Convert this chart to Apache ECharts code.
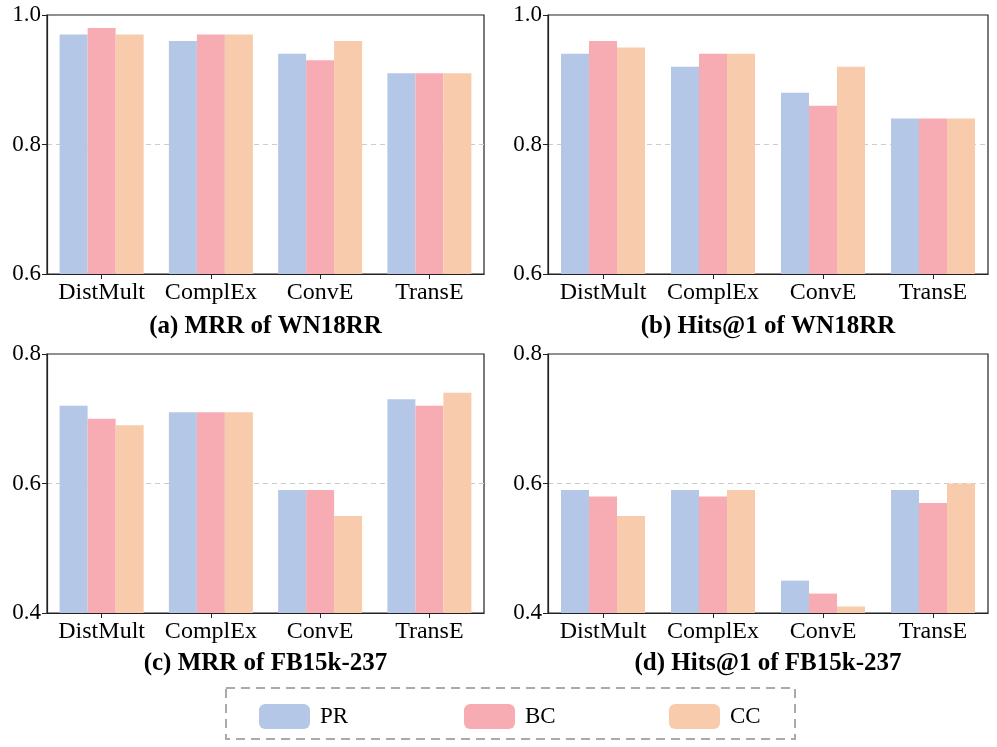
<!DOCTYPE html>
<html><head><meta charset="utf-8">
<script src="https://cdn.jsdelivr.net/npm/echarts@6/dist/echarts.min.js"></script>
<style>html,body{margin:0;padding:0;background:#fff}#c{width:997px;height:747px}</style>
</head><body><div id="c"></div>
<script>
const categories = ['DistMult','ComplEx','ConvE','TransE'];
const seriesNames = ['PR','BC','CC'];
const colors = ['#B4C7E7','#F7ACB4','#F7CBAB'];
const panelTitles = ['(a) MRR of WN18RR','(b) Hits@1 of WN18RR','(c) MRR of FB15k-237','(d) Hits@1 of FB15k-237'];
const yMin = [0.6, 0.6, 0.4, 0.4];
const yMax = [1.0, 1.0, 0.8, 0.8];
const yInterval = 0.2;
// values per panel: [PR, BC, CC]
const mrrWN_PR = [0.97, 0.96, 0.94, 0.91];
const mrrWN_BC = [0.98, 0.97, 0.93, 0.91];
const mrrWN_CC = [0.97, 0.97, 0.96, 0.91];
const hitsWN_PR = [0.94, 0.92, 0.88, 0.84];
const hitsWN_BC = [0.96, 0.94, 0.86, 0.84];
const hitsWN_CC = [0.95, 0.94, 0.92, 0.84];
const mrrFB_PR = [0.72, 0.71, 0.59, 0.73];
const mrrFB_BC = [0.70, 0.71, 0.59, 0.72];
const mrrFB_CC = [0.69, 0.71, 0.55, 0.74];
const hitsFB_PR = [0.59, 0.59, 0.45, 0.59];
const hitsFB_BC = [0.58, 0.58, 0.43, 0.57];
const hitsFB_CC = [0.55, 0.59, 0.41, 0.60];
const panels = [
  [mrrWN_PR, mrrWN_BC, mrrWN_CC],
  [hitsWN_PR, hitsWN_BC, hitsWN_CC],
  [mrrFB_PR, mrrFB_BC, mrrFB_CC],
  [hitsFB_PR, hitsFB_BC, hitsFB_CC]
];

const FONT = '"Liberation Serif","Times New Roman",serif';
const grids = [
  {left:47, top:15, width:437, height:259},
  {left:548, top:15, width:440, height:259},
  {left:47, top:354, width:437, height:259},
  {left:548, top:354, width:440, height:259}
];
const titleCenters = [[265.5,314],[768,314],[265.5,651],[768,651]];

const option = {
  backgroundColor:'#fff',
  animation:false,
  textStyle:{fontFamily:FONT},
  title: panelTitles.map((t,i)=>({
    text:t, left:titleCenters[i][0], top:titleCenters[i][1], textAlign:'center', padding:0,
    textStyle:{fontFamily:FONT, fontWeight:'bold', fontSize:25, color:'#000'}
  })),
  grid: grids.map(g=>Object.assign({show:true, borderColor:'#222', borderWidth:1.2, backgroundColor:'transparent'}, g)),
  xAxis: grids.map((g,i)=>({
    type:'category', gridIndex:i, data:categories,
    axisLine:{show:true, lineStyle:{color:'#222', width:1.2}},
    axisTick:{show:true, alignWithLabel:true, length:5, lineStyle:{color:'#222'}},
    axisLabel:{fontFamily:FONT, fontSize:24, color:'#000', margin:7, interval:0, hideOverlap:false},
    splitLine:{show:false}
  })),
  yAxis: grids.map((g,i)=>({
    type:'value', gridIndex:i, min:yMin[i], max:yMax[i], interval:yInterval,
    axisLine:{show:true, lineStyle:{color:'#222', width:1.2}},
    axisTick:{show:true, length:5, lineStyle:{color:'#222'}},
    axisLabel:{fontFamily:FONT, fontSize:23, color:'#000', margin:6, formatter:v=>v.toFixed(1)},
    splitLine:{show:true, showMinLine:false, showMaxLine:false, lineStyle:{color:'#ccc', type:[5,4], width:1}}
  })),
  legend: seriesNames.map((n,i)=>({
    data:[n], left:[259,464,669][i], top:704, padding:0,
    itemWidth:51, itemHeight:25, icon:'roundRect',
    textStyle:{fontFamily:FONT, fontSize:23, color:'#000', padding:[0,0,0,5]}
  })),
  graphic:[{
    type:'rect', shape:{x:226, y:688, width:569, height:51},
    style:{fill:'none', stroke:'#aaa', lineWidth:2, lineDash:[9,6]}
  }],
  series: []
};
panels.forEach((vals,p)=>{
  vals.forEach((arr,s)=>{
    option.series.push({
      type:'bar', name:seriesNames[s], xAxisIndex:p, yAxisIndex:p,
      data:arr, barWidth:28, barGap:'0%',
      itemStyle:{color:colors[s]}
    });
  });
});
const chart = echarts.init(document.getElementById('c'), null, {renderer:'canvas'});
chart.setOption(option);
</script></body></html>
